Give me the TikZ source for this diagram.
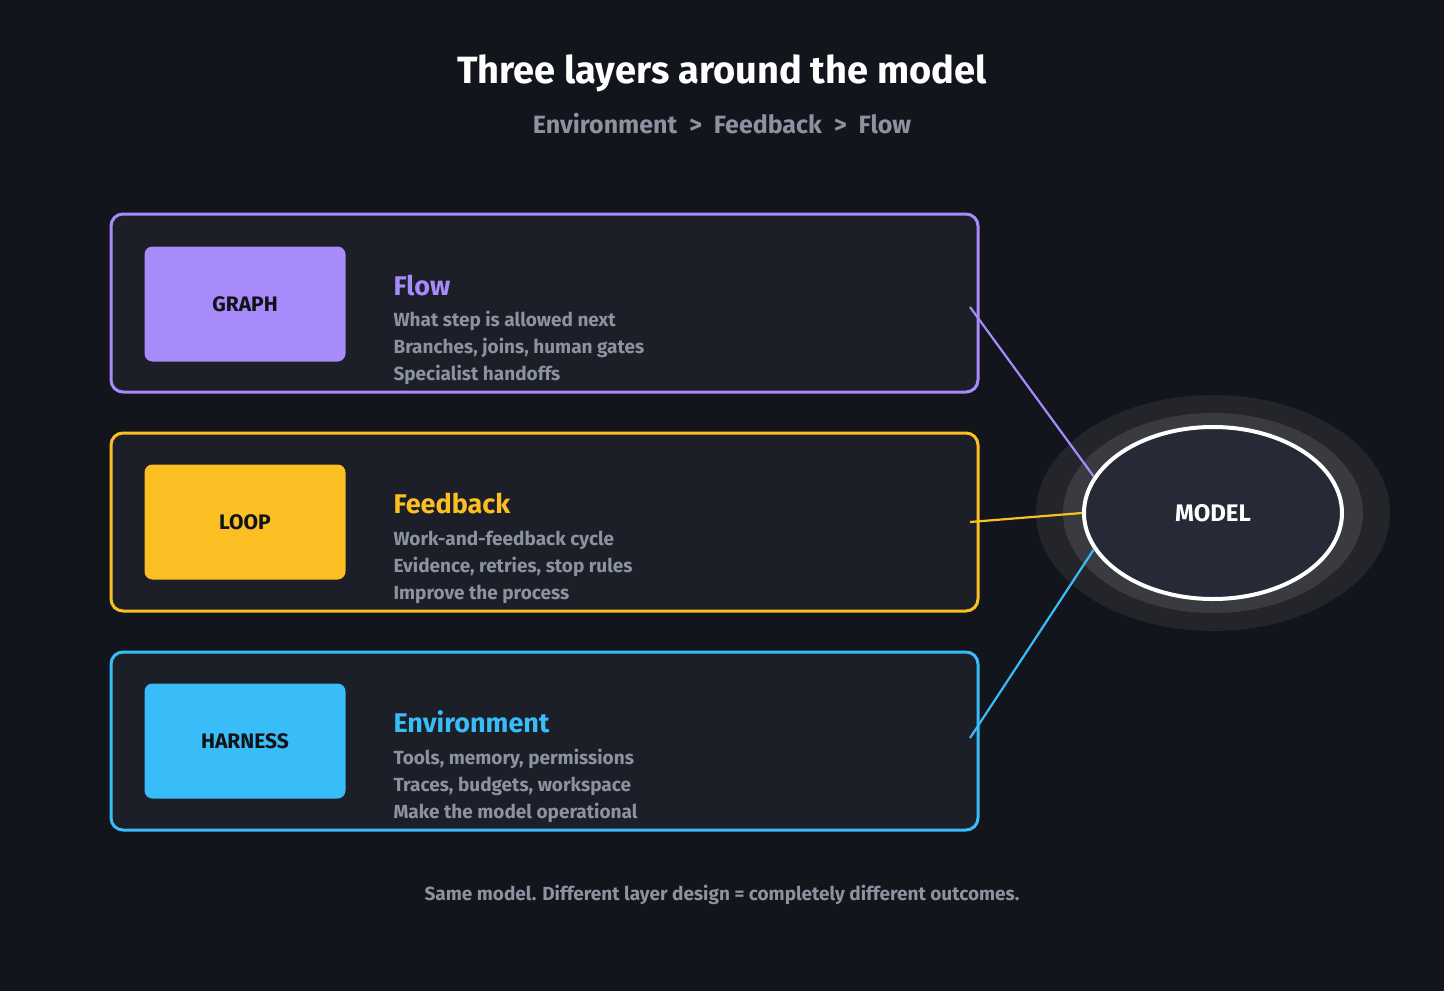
\documentclass[tikz,border=0pt]{standalone}
\usetikzlibrary{shapes.geometric}
\usepackage{fontspec}
\setmainfont{Fira Sans}
\begin{document}
\begin{tikzpicture}[x=1pt,y=-1pt,
  layer/.style={draw=#1,line width=3pt,rounded corners=12pt,fill=panel},
  tag/.style={fill=#1,rounded corners=8pt,minimum width=201pt,minimum height=115pt,text=tagtxt,font=\bfseries\fontsize{21}{26}\selectfont},
  head/.style={text=#1,anchor=west,font=\bfseries\fontsize{27}{32}\selectfont},
  body/.style={text=gray1,anchor=west,font=\bfseries\fontsize{19}{27}\selectfont,align=left},
  conn/.style={draw=#1,line width=2.2pt}]
\definecolor{bg}{HTML}{12151C}
\definecolor{panel}{HTML}{1C1F28}
\definecolor{gray1}{HTML}{8B92A0}
\definecolor{tagtxt}{HTML}{111318}
\definecolor{cp}{HTML}{A78BFA}
\definecolor{cy}{HTML}{FBBF24}
\definecolor{cb}{HTML}{38BDF8}
\fill[bg] (0,0) rectangle (1444,991);
\useasboundingbox (0,0) rectangle (1444,991);
\node[text=white,font=\bfseries\fontsize{38}{44}\selectfont] (title) at (722,73) {Three layers around the model};
\node[text=gray1,font=\bfseries\fontsize{25}{30}\selectfont] (sub) at (722,124) {Environment \ > \ Feedback \ > \ Flow};
% halo + model
\fill[fill={rgb,255:red,35;green,37;blue,42}] (1213,513) ellipse [x radius=177,y radius=118];
\fill[fill={rgb,255:red,58;green,59;blue,64}] (1213,513) ellipse [x radius=150,y radius=100];
% layers
\foreach \y/\c in {214/cp,433/cy,652/cb}{
  \draw[layer=\c] (111,\y) rectangle (978,\y+178);
}
\node[tag=cp] (g) at (245,304) {GRAPH};
\node[tag=cy] (l) at (245,522) {LOOP};
\node[tag=cb] (h) at (245,741) {HARNESS};
\node[head=cp] (fh) at (390,285) {Flow};
\node[head=cy] (bh) at (390,503) {Feedback};
\node[head=cb] (eh) at (390,722) {Environment};
\node[body] (fb) at (390,348) {What step is allowed next\\Branches, joins, human gates\\Specialist handoffs};
\node[body] (bb) at (390,567) {Work-and-feedback cycle\\Evidence, retries, stop rules\\Improve the process};
\node[body] (eb) at (390,786) {Tools, memory, permissions\\Traces, budgets, workspace\\Make the model operational};
\node[ellipse,draw=white,line width=4pt,fill={rgb,255:red,37;green,42;blue,54},minimum width=258pt,minimum height=172pt,inner sep=0pt,text=white,font=\bfseries\fontsize{24}{30}\selectfont] (m) at (1213,513) {MODEL};
\coordinate (a1) at (970,307);
\coordinate (a2) at (970,522);
\coordinate (a3) at (970,738);
\draw[conn=cp] (a1) -- (m.163);
\draw[conn=cy] (a2) -- (m.180);
\draw[conn=cb] (a3) -- (m.197);
\node[text=gray1,font=\bfseries\fontsize{19}{24}\selectfont] (foot) at (722,895) {Same model. Different layer design = completely different outcomes.};
\end{tikzpicture}
\end{document}
